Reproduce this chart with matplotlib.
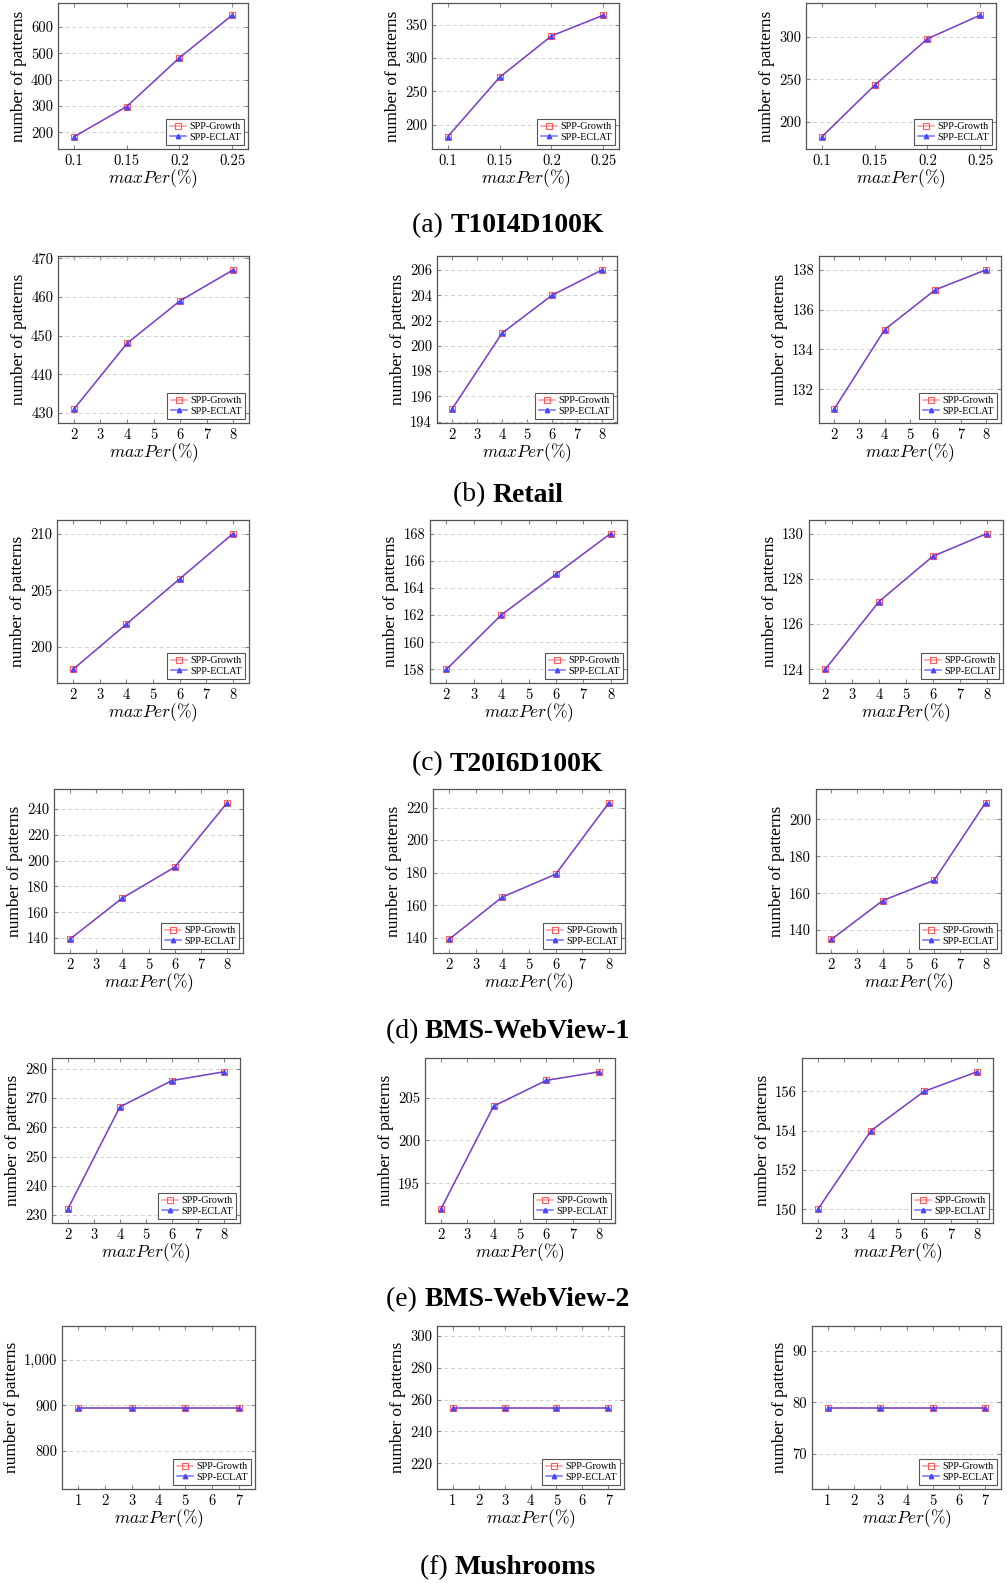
import numpy as np
import matplotlib
matplotlib.use('Agg')
import matplotlib.pyplot as plt
from matplotlib.ticker import MultipleLocator, FuncFormatter

## Donnees

x_t10 = [0.1, 0.15, 0.2, 0.25]
x_per = [2, 4, 6, 8]
x_mush = [1, 3, 5, 7]

t10_growth = [[183, 298, 483, 645], [182, 271, 333, 364], [182, 243, 298, 326]]
t10_eclat = [[183, 298, 483, 645], [182, 271, 333, 364], [182, 243, 298, 326]]

retail_growth = [[431, 448, 459, 467], [195, 201, 204, 206], [131, 135, 137, 138]]
retail_eclat = [[431, 448, 459, 467], [195, 201, 204, 206], [131, 135, 137, 138]]

t20_growth = [[198, 202, 206, 210], [158, 162, 165, 168], [124, 127, 129, 130]]
t20_eclat = [[198, 202, 206, 210], [158, 162, 165, 168], [124, 127, 129, 130]]

bms1_growth = [[139, 171, 195, 245], [139, 165, 179, 223], [135, 156, 167, 209]]
bms1_eclat = [[139, 171, 195, 245], [139, 165, 179, 223], [135, 156, 167, 209]]

bms2_growth = [[232, 267, 276, 279], [192, 204, 207, 208], [150, 154, 156, 157]]
bms2_eclat = [[232, 267, 276, 279], [192, 204, 207, 208], [150, 154, 156, 157]]

mush_growth = [[895, 895, 895, 895], [255, 255, 255, 255], [79, 79, 79, 79]]
mush_eclat = [[895, 895, 895, 895], [255, 255, 255, 255], [79, 79, 79, 79]]

captions = [("(a)", "T10I4D100K"), ("(b)", "Retail"), ("(c)", "T20I6D100K"),
            ("(d)", "BMS-WebView-1"), ("(e)", "BMS-WebView-2"), ("(f)", "Mushrooms")]

xs = [x_t10, x_per, x_per, x_per, x_per, x_mush]
growth = [t10_growth, retail_growth, t20_growth, bms1_growth, bms2_growth, mush_growth]
eclat = [t10_eclat, retail_eclat, t20_eclat, bms1_eclat, bms2_eclat, mush_eclat]

ysteps = [[100, 50, 50], [10, 2, 2], [5, 2, 2], [20, 20, 20], [10, 5, 2], [100, 20, 10]]

## Mise en page (pixels)

W, H = 1007, 1585
rows = [
    (3, 149, [(58, 248), (432, 619), (806, 996)]),
    (256, 423, [(58, 249), (437, 617), (819, 1001)]),
    (520, 683, [(57, 249), (430, 627), (809, 1003)]),
    (789, 953, [(54, 243), (433, 625), (816, 1001)]),
    (1058, 1223, [(52, 240), (425, 615), (802, 993)]),
    (1326, 1489, [(62, 255), (437, 624), (812, 1001)]),
]
cap_y = [226, 495, 764, 1032, 1300, 1568]

plt.rcParams['font.family'] = ['Liberation Serif', 'DejaVu Serif']
plt.rcParams['mathtext.fontset'] = 'cm'

fig = plt.figure(figsize=(W / 100, H / 100), dpi=100)

for r in range(6):
    top, bot, cols = rows[r]
    for c in range(3):
        l, rr = cols[c]
        ax = fig.add_axes([l / W, 1 - bot / H, (rr - l) / W, (bot - top) / H])
        x = xs[r]
        yg = growth[r][c]
        ye = eclat[r][c]
        ax.plot(x, yg, color=(1, 0, 0, 0.4), lw=1.1, marker='s', ms=3.8,
                mfc='none', mec='#ff5a5a', mew=0.8, label='SPP-Growth')
        ax.plot(x, ye, color=(0, 0, 1, 0.55), lw=1.1, marker='^', ms=3.2,
                mfc='#4848ff', mec='#4848ff', label='SPP-ECLAT')
        ax.margins(x=0.1, y=0.1)
        if min(yg) == max(yg):
            ax.set_ylim(yg[0] * 0.8, yg[0] * 1.2)
        ax.yaxis.set_major_locator(MultipleLocator(ysteps[r][c]))
        if r == 0:
            ax.set_xticks(x)
            ax.set_xticklabels(['0.1', '0.15', '0.2', '0.25'])
        else:
            ax.xaxis.set_major_locator(MultipleLocator(1))
        ax.yaxis.set_major_formatter(FuncFormatter(lambda v, p: f"{v:,.0f}"))
        ax.grid(axis='y', ls=(0, (4, 3)), color='#d0d0d0', lw=0.7)
        ax.tick_params(direction='in', top=True, right=True, length=3,
                       color='#888888', labelsize=10.5, labelfontfamily='cmr10')
        for s in ax.spines.values():
            s.set_color('#555555')
            s.set_linewidth(0.9)
        ax.set_xlabel(r'$maxPer(\%)$', fontsize=12.5, labelpad=0)
        ax.set_ylabel('number of patterns', fontsize=12.5, labelpad=3)
        leg = ax.legend(loc='lower right', fontsize=7.3, fancybox=False,
                        edgecolor='#555555', framealpha=1, borderaxespad=0.35,
                        handlelength=1.6, handletextpad=0.3, labelspacing=0.15,
                        borderpad=0.35)
        leg.get_frame().set_linewidth(0.8)

## Legendes (a)...(f)

renderer = fig.canvas.get_renderer()
for r in range(6):
    y = 1 - cap_y[r] / H
    t1 = fig.text(0, y, captions[r][0] + ' ', fontsize=20, va='center', ha='left')
    t2 = fig.text(0, y, captions[r][1], fontsize=20, fontweight='bold', va='center', ha='left')
    w1 = t1.get_window_extent(renderer).width
    w2 = t2.get_window_extent(renderer).width
    x0 = 508 - (w1 + w2) / 2
    t1.set_x(x0 / W)
    t2.set_x((x0 + w1) / W)

plt.savefig('out.png', dpi=100)
